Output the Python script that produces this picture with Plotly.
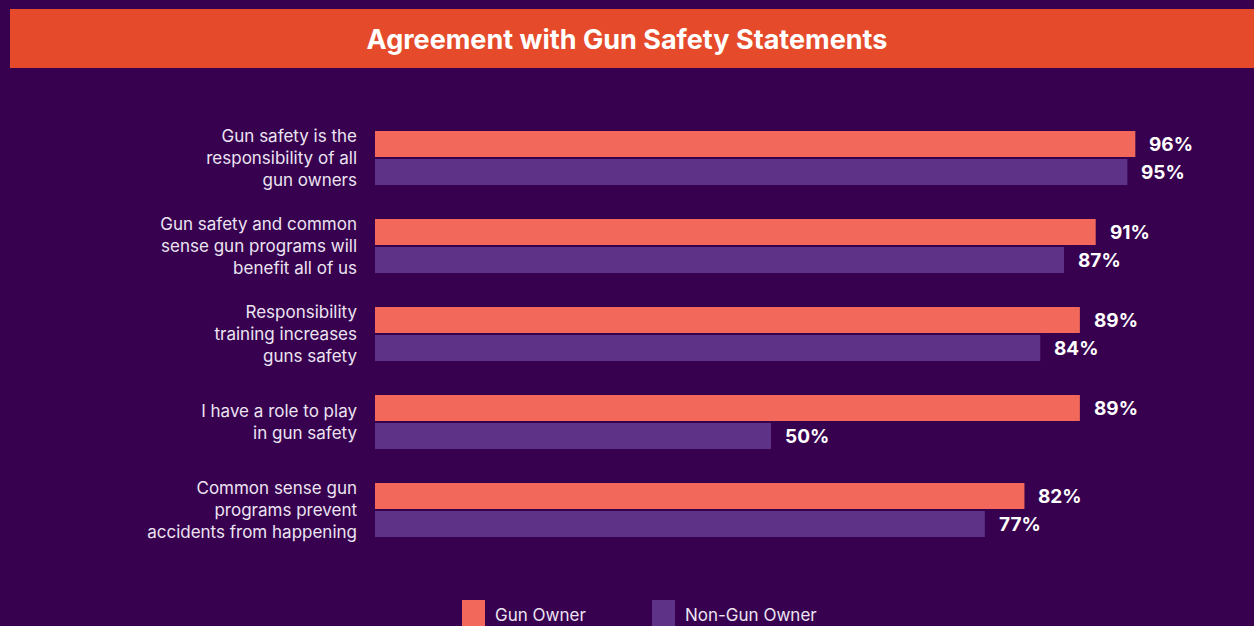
import plotly.graph_objects as go

categories = [
    "Gun safety is the<br>responsibility of all<br>gun owners",
    "Gun safety and common<br>sense gun programs will<br>benefit all of us",
    "Responsibility<br>training increases<br>guns safety",
    "I have a role to play<br>in gun safety",
    "Common sense gun<br>programs prevent<br>accidents from happening",
]
gun_owner = [96, 91, 89, 89, 82]
non_gun_owner = [95, 87, 84, 50, 77]
series_names = ["Gun Owner", "Non-Gun Owner"]

BG = "#37014F"
C_GUN = "#F2685A"
C_NON = "#5E3286"
TEXT = "#ECE4F2"
FONT = "Inter, Lato, sans-serif"

W, H = 1254, 626
L, R, T, B = 375, 87, 114, 72
PW, PH = W - L - R, H - T - B

def px_x(px):
    return (px - L) / PW

def px_y(py):
    return (H - B - py) / PH

fig = go.Figure()
fig.add_trace(go.Bar(y=categories, x=gun_owner, orientation="h", name=series_names[0],
                     marker=dict(color=C_GUN, line=dict(width=0)), showlegend=False))
fig.add_trace(go.Bar(y=categories, x=non_gun_owner, orientation="h", name=series_names[1],
                     marker=dict(color=C_NON, line=dict(width=0)), showlegend=False))

annotations = []
for cat, g, n in zip(categories, gun_owner, non_gun_owner):
    for val, ys in ((g, 14), (n, -14)):
        annotations.append(dict(x=val, y=cat, xref="x", yref="y", text=f"<b>{val}%</b>",
                                showarrow=False, xanchor="left", yanchor="middle",
                                xshift=12, yshift=ys,
                                font=dict(family=FONT, size=19, color="white")))

# legend (manual)
legend_items = [(series_names[0], C_GUN, 462), (series_names[1], C_NON, 652)]
shapes = []
for name, col, x0 in legend_items:
    shapes.append(dict(type="rect", xref="paper", yref="paper",
                       x0=px_x(x0), x1=px_x(x0 + 23), y0=px_y(640), y1=px_y(600),
                       fillcolor=col, line=dict(width=0), layer="above"))
    annotations.append(dict(x=px_x(x0 + 31), y=px_y(615), xref="paper", yref="paper",
                            text=name, showarrow=False, xanchor="left", yanchor="middle",
                            font=dict(family=FONT, size=17, color=TEXT)))

# title band
shapes.append(dict(type="rect", xref="paper", yref="paper",
                   x0=px_x(10), x1=px_x(1260), y0=px_y(68), y1=px_y(9),
                   fillcolor="#E54B2A", line=dict(width=0), layer="below"))

fig.update_layout(
    width=W, height=H,
    paper_bgcolor=BG, plot_bgcolor=BG,
    margin=dict(l=L, r=R, t=T, b=B, pad=0),
    title=dict(text="<b>Agreement with Gun Safety Statements</b>", x=0.5, xanchor="center",
               y=1 - 40 / H, yanchor="middle", yref="container",
               font=dict(family=FONT, size=27, color="white")),
    barmode="group", bargap=0.364, bargroupgap=0.071,
    xaxis=dict(range=[0, 100], visible=False, fixedrange=True),
    yaxis=dict(autorange="reversed", showgrid=False, zeroline=False, showline=False,
               ticks="", ticklabelstandoff=17,
               tickfont=dict(family=FONT, size=17, color=TEXT)),
    shapes=shapes, annotations=annotations,
    showlegend=False,
)
fig.write_html("out.html", config={"displayModeBar": False},
               post_script="document.body.style.margin='0';document.body.style.background='" + BG + "';")
